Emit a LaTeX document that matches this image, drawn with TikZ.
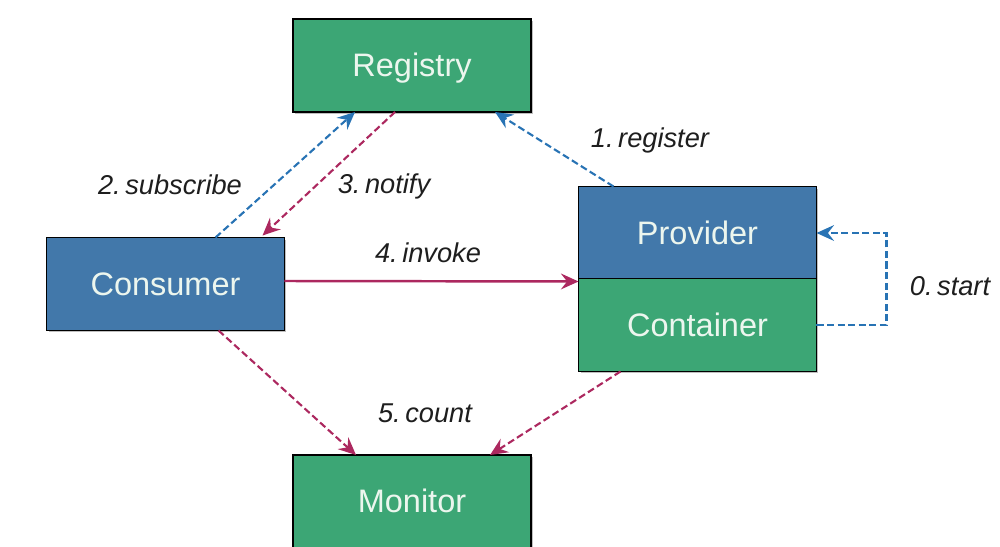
\documentclass[tikz,border=0pt]{standalone}
\usepackage{fontspec}
\setmainfont{Liberation Sans}
\usetikzlibrary{arrows.meta,calc}
\definecolor{boxgreen}{RGB}{60,166,117}
\definecolor{boxblue}{RGB}{66,120,170}
\definecolor{lineblue}{RGB}{40,115,180}
\definecolor{linemag}{RGB}{172,40,95}
\definecolor{txtgray}{RGB}{30,30,30}
\definecolor{boxtxt}{RGB}{236,246,238}
\begin{document}
\begin{tikzpicture}[x=0.02cm,y=-0.02cm,
  box/.style={draw=black,line width=1.1pt,minimum width=4.76cm,minimum height=1.86cm,inner sep=0pt,outer sep=0pt,text=boxtxt,font=\fontsize{18.5}{20}\selectfont,text height=12.6pt,text depth=0pt},
  gbox/.style={box,fill=boxgreen},
  bbox/.style={box,fill=boxblue},
  shadowbox/.style={fill=black!25,draw=none,minimum width=4.76cm,minimum height=1.86cm,inner sep=0pt,outer sep=0pt},
  lbl/.style={text=txtgray,font=\fontsize{15.5}{17}\selectfont\itshape},
  blueline/.style={lineblue,line width=1.2pt,dash pattern=on 4pt off 2pt,-{Stealth[length=10pt,width=9pt,inset=3.5pt]}},
  magline/.style={linemag,line width=1.2pt,dash pattern=on 4pt off 2pt,-{Stealth[length=10pt,width=9pt,inset=3.5pt]}},
  solidmag/.style={linemag,line width=1.4pt,-{Stealth[length=10pt,width=9pt,inset=3.5pt]}}
]
\useasboundingbox (0,0) rectangle (1000,547);
\clip (0,0) rectangle (1000,547);
% shadows
\node[shadowbox] at (414,67.5) {};
\node[shadowbox] at (167.5,286) {};
\node[shadowbox,minimum height=3.68cm] at (699.5,281) {};
\node[shadowbox] at (414,503.5) {};
% boxes
\node[gbox] (registry) at (412,65.5) {Registry};
\node[bbox] (consumer) at (165.5,284) {Consumer};
\node[bbox] (provider) at (697.5,233) {Provider};
\node[gbox] (container) at (697.5,325) {Container};
\node[gbox] (monitor) at (412,501.5) {Monitor};
% connectors
\draw[blueline] ($(consumer.north west)+(169,0)$) -- ($(registry.south west)+(62,0)$);
\draw[magline] ($(registry.south west)+(102,0)$) -- ($(consumer.north west)+(216,-2)$);
\draw[blueline] ($(provider.north west)+(35,0)$) -- ($(registry.south west)+(202,0)$);
\draw[solidmag] ($(consumer.east)+(0,-3)$) -- ($(provider.south west)+(0,2)$);
\draw[blueline] (container.east) -- ++(70,0) |- (provider.east);
\draw[magline] ($(consumer.south west)+(172,0)$) -- ($(monitor.north west)+(63,0)$);
\draw[magline] ($(container.south west)+(42,0)$) -- ($(monitor.north west)+(197,0)$);
% labels
\node[lbl] (lsub) at (170,185) {2.\,subscribe};
\node[lbl] (lnot) at (384,186) {3.\,notify};
\node[lbl] (lreg) at (650,140) {1.\,register};
\node[lbl] (linv) at (428,253) {4.\,invoke};
\node[lbl] (lsta) at (950,286) {0.\,start};
\node[lbl] (lcou) at (425,413) {5.\,count};
\end{tikzpicture}
\end{document}
